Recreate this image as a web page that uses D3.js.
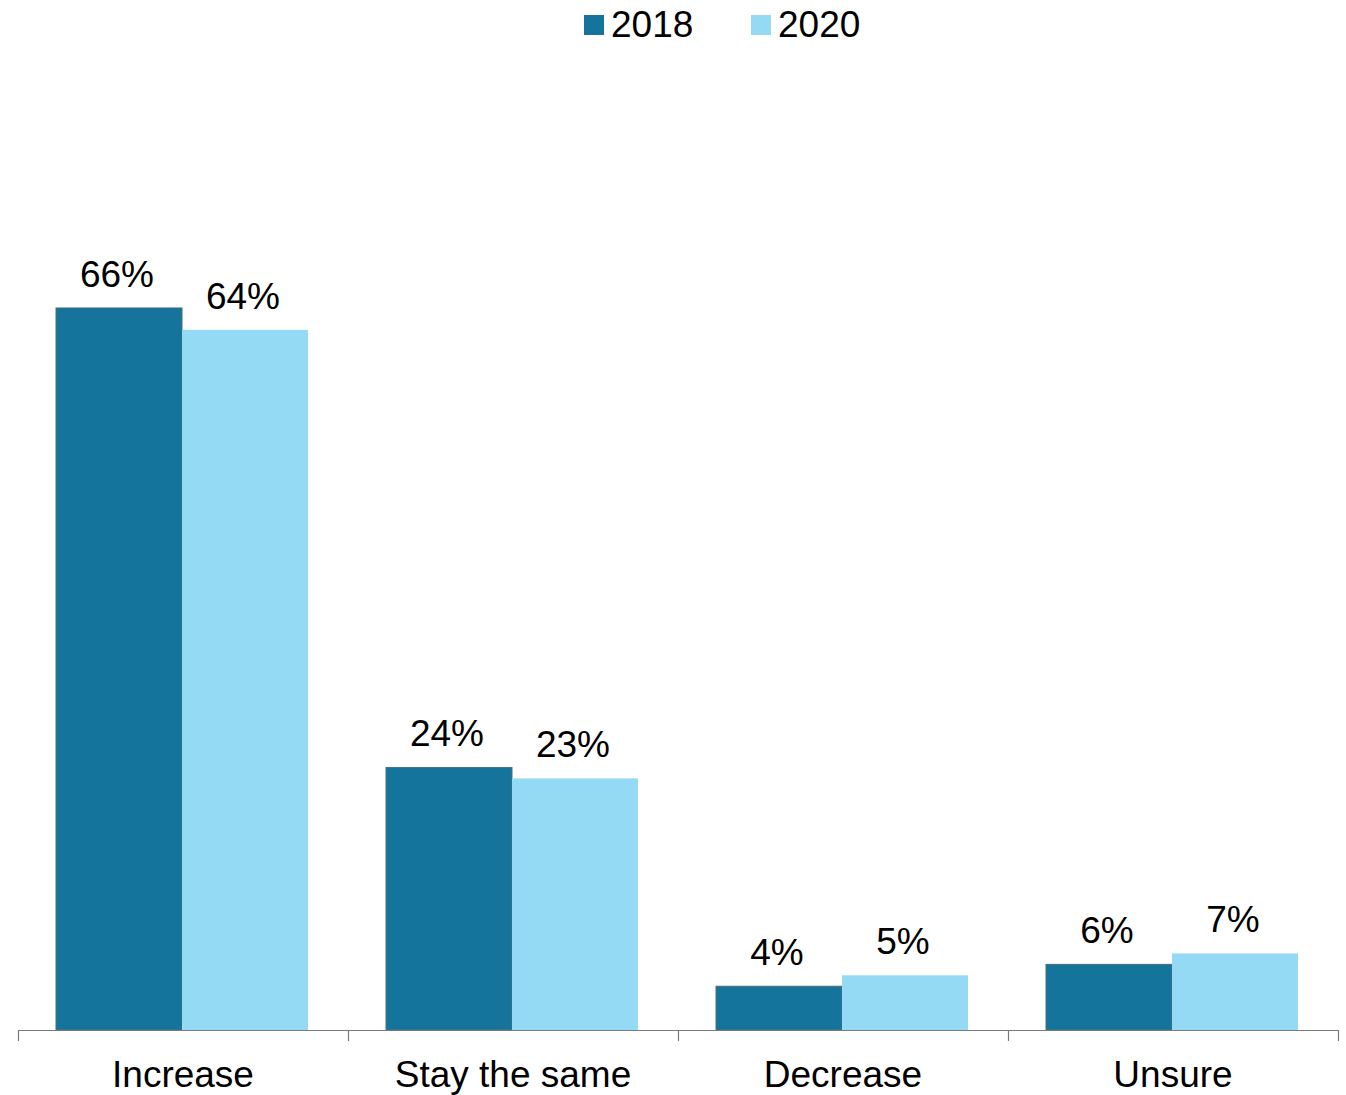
<!DOCTYPE html>
<html>
<head>
<meta charset="utf-8">
<script src="https://cdn.jsdelivr.net/npm/d3@7"></script>
<style>
  html, body { margin: 0; padding: 0; background: #fff; }
  svg { display: block; font-family: "Liberation Sans", Arial, sans-serif; }
</style>
</head>
<body>
<svg id="chart" width="1346" height="1095"></svg>
<script>
const categories = ["Increase", "Stay the same", "Decrease", "Unsure"];
const seriesNames = ["2018", "2020"];
const values2018 = [66, 24, 4, 6];
const values2020 = [64, 23, 5, 7];
const valueLabels2018 = ["66%", "24%", "4%", "6%"];
const valueLabels2020 = ["64%", "23%", "5%", "7%"];
const colors = ["#14749c", "#95daf5"];

const svg = d3.select("#chart");
const baseY = 1030;

const x = d3.scaleBand().domain(categories).range([18, 1338]).paddingInner(0).paddingOuter(0);
const xSub = d3.scaleBand().domain(seriesNames).range([38, 290]).padding(0);
const y = d3.scaleLinear().domain([0, 70]).range([baseY, baseY - 70 * 10.94]);

const series = [
  { name: "2018", values: values2018, labels: valueLabels2018 },
  { name: "2020", values: values2020, labels: valueLabels2020 }
];

// bars
series.forEach((s, si) => {
  const g = svg.append("g");
  g.selectAll("rect").data(categories).enter().append("rect")
    .attr("x", c => x(c) + xSub(s.name))
    .attr("y", (c, i) => y(s.values[i]))
    .attr("width", xSub.bandwidth())
    .attr("height", (c, i) => baseY - y(s.values[i]))
    .attr("fill", colors[si])
    .attr("stroke", si === 0 ? "#4d6f7d" : "none")
    .attr("stroke-width", si === 0 ? 1 : 0);
  g.selectAll("text").data(categories).enter().append("text")
    .attr("x", c => x(c) + xSub(s.name) + xSub.bandwidth() / 2 - 2)
    .attr("y", (c, i) => y(s.values[i]) - 21)
    .attr("text-anchor", "middle")
    .attr("font-size", 37)
    .attr("fill", "#000")
    .text((c, i) => s.labels[i]);
});

// axis
const axisG = svg.append("g");
axisG.append("line")
  .attr("x1", x.range()[0]).attr("x2", x.range()[1])
  .attr("y1", baseY + 0.5).attr("y2", baseY + 0.5)
  .attr("stroke", "#7a7a7a").attr("stroke-width", 1.2);
const tickXs = categories.map(c => x(c)).concat([x.range()[1]]);
axisG.selectAll("line.tick").data(tickXs).enter().append("line")
  .attr("class", "tick")
  .attr("x1", d => d + 0.5).attr("x2", d => d + 0.5)
  .attr("y1", baseY).attr("y2", baseY + 11)
  .attr("stroke", "#7a7a7a").attr("stroke-width", 1.2);
axisG.selectAll("text").data(categories).enter().append("text")
  .attr("x", c => x(c) + x.bandwidth() / 2)
  .attr("y", 1087)
  .attr("text-anchor", "middle")
  .attr("font-size", 37)
  .attr("fill", "#000")
  .text(c => c);

// legend
const legendItems = [
  { name: seriesNames[0], color: colors[0], x: 584 },
  { name: seriesNames[1], color: colors[1], x: 751 }
];
const lg = svg.append("g");
legendItems.forEach(it => {
  lg.append("rect").attr("x", it.x).attr("y", 15).attr("width", 20).attr("height", 20).attr("fill", it.color);
  lg.append("text").attr("x", it.x + 27).attr("y", 37).attr("font-size", 37).attr("fill", "#000").text(it.name);
});
</script>
</body>
</html>
